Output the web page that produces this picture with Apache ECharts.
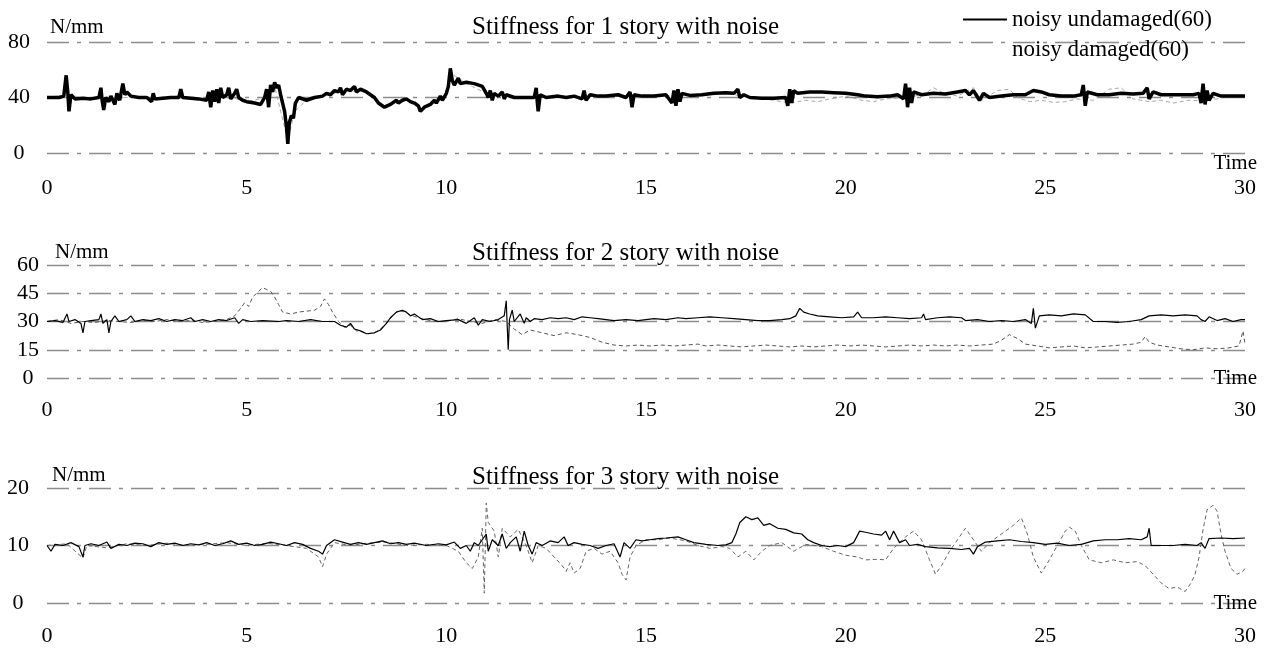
<!DOCTYPE html>
<html>
<head>
<meta charset="utf-8">
<script src="https://cdn.jsdelivr.net/npm/echarts@6/dist/echarts.min.js"></script>
<style>html,body{margin:0;padding:0;background:#fff;}#c{width:1270px;height:648px;}</style>
</head>
<body>
<div id="c"></div>
<script>
// ---- data (time in s, stiffness in N/mm) ----
var xTicks = [0, 5, 10, 15, 20, 25, 30];
var titles = ['Stiffness for 1 story with noise', 'Stiffness for 2 story with noise', 'Stiffness for 3 story with noise'];
var seriesNames = ['noisy undamaged(60)', 'noisy damaged(60)'];
var yMax = [80, 60, 20];
var yStep = [40, 15, 10];

var story1Undamaged = [[0,40],[0.3,40],[0.42,41],[0.48,56],[0.52,44],[0.55,30],[0.6,42],[0.7,39],[0.9,39.5],[1.1,39],[1.3,40],[1.35,47],[1.38,38],[1.42,31],[1.47,40],[1.55,37],[1.6,41],[1.7,35],[1.75,43],[1.82,38],[1.9,50],[1.95,42],[2.0,44],[2.1,41],[2.3,40],[2.5,40],[2.62,37],[2.66,43],[2.7,39],[2.9,39.5],[3.1,40],[3.3,40],[3.35,46],[3.4,40],[3.6,39.5],[3.8,39],[4.0,38],[4.05,44],[4.1,33],[4.15,45],[4.2,37],[4.25,46],[4.3,36],[4.35,47],[4.4,40],[4.5,42],[4.55,47],[4.6,39],[4.7,43],[4.75,46],[4.8,40],[4.9,38],[5.0,37],[5.2,36],[5.35,35],[5.45,40],[5.5,46],[5.55,33],[5.6,49],[5.65,44],[5.7,51],[5.75,47],[5.8,49],[5.85,42],[5.9,36],[5.95,30],[6.0,18],[6.03,6.5],[6.07,22],[6.12,27],[6.17,25],[6.22,36],[6.3,40],[6.5,38],[6.7,40],[6.9,41],[7.0,43],[7.1,42],[7.2,45],[7.3,44],[7.35,47],[7.4,42],[7.5,46],[7.6,45],[7.7,48],[7.75,44],[7.85,46],[8.0,44],[8.1,42],[8.2,40],[8.3,36],[8.45,33],[8.6,35],[8.75,38],[8.8,36],[8.9,38],[9.0,39],[9.1,37],[9.2,36],[9.3,34],[9.35,30],[9.45,33],[9.6,35],[9.7,38],[9.75,36],[9.85,41],[9.9,38],[10.0,43],[10.05,48],[10.1,61],[10.15,52],[10.2,49],[10.3,54],[10.35,50],[10.5,51],[10.7,50],[10.9,48],[11.0,43],[11.05,40],[11.1,45],[11.15,38],[11.2,43],[11.3,41],[11.4,44],[11.45,39],[11.5,42],[11.7,40],[12.0,40],[12.2,40],[12.25,47],[12.28,36],[12.3,30],[12.35,42],[12.5,40],[12.8,41],[13.0,40],[13.2,41],[13.4,39],[13.45,45],[13.5,38],[13.6,42],[13.8,41],[14.0,41],[14.3,42],[14.5,40],[14.6,44],[14.65,33],[14.7,42],[14.9,41],[15.2,41],[15.5,42],[15.65,36],[15.7,45],[15.75,34],[15.8,46],[15.85,37],[15.9,43],[16.1,41.5],[16.4,42],[16.7,43],[17.0,43.5],[17.2,43],[17.3,46],[17.35,40],[17.45,42],[17.6,40],[17.9,39.5],[18.2,39.5],[18.5,40],[18.55,34],[18.6,46],[18.65,36],[18.7,45],[18.8,43],[19.1,44],[19.4,44],[19.7,43.5],[20.0,43],[20.3,42],[20.5,41],[20.8,40.5],[21.1,41],[21.3,42],[21.45,39],[21.5,50],[21.55,33],[21.6,47],[21.65,36],[21.7,44],[21.9,42],[22.2,43],[22.5,42.5],[22.8,44],[23.0,45],[23.1,42],[23.2,45],[23.35,38],[23.45,43],[23.6,40],[23.9,41],[24.2,42],[24.5,42],[24.7,45],[24.9,44],[25.1,42],[25.4,41],[25.7,41],[25.9,42],[25.95,49],[26.0,34],[26.05,44],[26.3,42],[26.6,42],[26.9,43],[27.2,42.5],[27.45,43],[27.55,47],[27.6,39],[27.7,44],[27.9,42],[28.3,42],[28.7,42],[28.85,43],[28.9,36],[28.95,50],[29.0,35],[29.05,45],[29.1,38],[29.2,43],[29.4,41],[29.7,41],[30,41]];

var story1Damaged = [[0,40],[0.5,42],[1,39.5],[2,40],[3,40],[4,39],[4.5,41],[5,37],[5.5,40],[5.7,48],[6.03,9],[6.2,30],[6.5,38],[7,42],[7.5,45],[8,44],[8.45,33],[9,38],[9.4,31],[10,43],[10.1,58],[10.5,50],[11,43],[12,40],[13,40.5],[14,41],[15,41],[16,41.5],[17,43],[17.6,40],[18.2,38],[18.6,36],[19,38],[19.3,37],[19.6,39],[20,41],[20.4,38],[20.7,37],[21,39],[21.6,40],[22,43],[22.2,47],[22.4,44],[22.8,41],[23.2,47],[23.4,38],[23.8,45],[24.1,46],[24.3,40],[24.6,37],[24.9,38],[25.2,36.5],[25.5,37],[25.8,39],[26.2,38],[26.6,46],[26.9,47],[27.2,39],[27.6,37],[27.9,38],[28.2,36],[28.6,38],[29,37.5],[29.5,40],[30,40.5]];

var story2Undamaged = [[0,30],[0.2,30.5],[0.4,29.5],[0.5,34],[0.55,30],[0.7,31],[0.85,29],[0.9,24],[0.95,30],[1.1,30.5],[1.3,31],[1.35,34],[1.4,29],[1.5,31],[1.55,24],[1.6,30],[1.7,33],[1.8,30],[2.0,31],[2.1,33],[2.2,30],[2.4,31],[2.6,30.5],[2.8,31.5],[3.0,30],[3.2,31],[3.4,30.5],[3.6,32],[3.7,30],[3.9,31],[4.1,30],[4.3,31],[4.5,30.5],[4.7,32],[4.8,29],[4.9,31],[5.1,30],[5.4,30.5],[5.8,30],[6.0,30.5],[6.3,30],[6.6,31],[6.9,30],[7.2,30],[7.35,28],[7.5,27],[7.6,29],[7.7,26],[7.85,25],[8.0,23.5],[8.2,24],[8.35,25.5],[8.5,29],[8.6,32],[8.75,35],[8.9,36],[9.0,35],[9.1,33],[9.2,34],[9.4,31],[9.6,31.5],[9.8,30],[10.0,30.5],[10.3,31],[10.5,29],[10.7,32],[10.8,28],[10.9,31],[11.1,30],[11.3,31],[11.45,33],[11.5,41],[11.52,30],[11.55,15],[11.58,31],[11.65,36],[11.7,30],[11.85,34],[11.95,29],[12.0,32],[12.1,30],[12.2,31.5],[12.4,31],[12.6,32],[12.8,31.5],[13.0,32],[13.2,31],[13.4,32.5],[13.6,32],[13.8,31.5],[14.0,31],[14.2,30.5],[14.5,31],[14.8,30.5],[15.0,31],[15.2,31.5],[15.5,31],[15.8,32],[16.0,31.5],[16.3,32],[16.6,32.5],[16.9,32],[17.2,31.5],[17.5,31],[17.8,30.5],[18.1,30.5],[18.4,31],[18.6,31.5],[18.75,33],[18.85,37],[18.95,35],[19.1,34],[19.3,33],[19.6,32.5],[19.9,32],[20.2,32.5],[20.3,35],[20.4,32],[20.7,32],[21.0,32.5],[21.3,32],[21.6,31.5],[21.9,32],[21.95,34],[22.0,31],[22.3,32],[22.6,32.5],[22.9,32],[23.0,30.5],[23.3,31],[23.6,30],[23.9,30.5],[24.2,30],[24.5,31],[24.65,29],[24.7,37],[24.75,26.5],[24.85,33],[25.1,33.5],[25.4,33],[25.7,34],[26.0,33.5],[26.2,30],[26.5,30],[26.8,29.5],[27.1,30],[27.4,31],[27.6,33],[27.9,33.5],[28.2,33],[28.5,33.5],[28.8,33],[28.9,31],[29.0,30],[29.1,32.5],[29.3,30.5],[29.5,31.5],[29.7,30],[29.9,31],[30,31]];

var story2Damaged = [[0,30],[0.3,31],[0.6,29],[0.9,30],[1.2,29.5],[1.5,30.5],[1.8,30],[2.1,29.5],[2.4,30.5],[2.7,30],[3.0,31],[3.3,30],[3.6,30.5],[3.9,29.5],[4.2,30],[4.5,31],[4.7,33],[4.85,37],[4.95,40],[5.05,38],[5.15,43],[5.3,46],[5.4,48],[5.5,47],[5.6,46],[5.7,43],[5.8,39],[5.9,35],[6.1,34],[6.3,35],[6.5,35.5],[6.7,36],[6.85,38],[6.95,42],[7.05,39],[7.15,35],[7.3,30],[7.45,27],[7.6,28],[7.75,25],[7.9,24.5],[8.05,23.5],[8.2,24],[8.35,26],[8.5,29],[8.65,33],[8.8,36],[8.95,35],[9.1,33.5],[9.3,32],[9.5,31],[9.7,30],[10.0,30],[10.3,31.5],[10.6,30],[10.9,29],[11.2,31],[11.5,30],[11.7,26],[11.9,23],[12.1,25.5],[12.4,24],[12.7,22.5],[13.0,24],[13.3,23],[13.6,21.5],[13.9,19],[14.2,17.5],[14.5,17],[14.8,17.5],[15.1,17],[15.4,17.5],[15.7,17],[16.0,17.5],[16.3,18],[16.5,17],[16.8,17.5],[17.1,17],[17.4,16.5],[17.7,17],[18.0,17.5],[18.3,17],[18.6,16.5],[18.9,17],[19.2,16.5],[19.5,17],[19.8,17.5],[20.1,17],[20.4,17.5],[20.7,17],[21.0,16.5],[21.3,17],[21.6,17.5],[21.9,17],[22.2,17.5],[22.5,17],[22.8,17.5],[23.1,17],[23.4,17.5],[23.7,18],[23.9,20],[24.1,23],[24.3,21],[24.5,18],[24.8,17],[25.1,16],[25.4,16.5],[25.7,17],[26.0,16],[26.3,16.5],[26.6,17],[26.9,17.5],[27.2,18],[27.4,19],[27.5,22],[27.6,19],[27.8,17.5],[28.1,16.5],[28.4,15.5],[28.7,15],[29.0,16],[29.3,15.5],[29.6,16],[29.85,17],[29.95,25],[30,18]];

var story3Undamaged = [[0,10],[0.1,9],[0.2,10.2],[0.4,10],[0.6,10.5],[0.8,9.8],[0.9,8],[0.95,10],[1.1,10.3],[1.3,10],[1.5,10.6],[1.6,9.5],[1.8,10.2],[2.0,10],[2.2,10.4],[2.4,10.3],[2.6,9.8],[2.8,10.5],[3.0,10.2],[3.2,10.4],[3.4,10],[3.6,10.3],[3.8,10.1],[4.0,10.5],[4.2,10],[4.4,10.3],[4.6,10.8],[4.8,10.2],[5.0,10.4],[5.2,10],[5.4,10.2],[5.6,10.6],[5.8,10.3],[6.0,10],[6.2,10.5],[6.4,10.2],[6.6,9.5],[6.8,9],[6.9,8.5],[7.0,10],[7.2,11],[7.4,10.6],[7.6,10.2],[7.8,10.5],[8.0,10.2],[8.2,10.5],[8.4,10.8],[8.6,10.3],[8.8,10.5],[9.0,10.2],[9.2,10.4],[9.5,10],[9.8,10.3],[10.0,10.1],[10.2,10.6],[10.35,9.5],[10.5,10],[10.6,9],[10.7,10.5],[10.8,10],[11.0,12],[11.05,9],[11.15,11],[11.3,10],[11.4,12],[11.5,9.5],[11.6,10.5],[11.75,11.5],[11.85,9],[11.95,12.5],[12.05,10],[12.15,8.5],[12.25,10.5],[12.4,10],[12.6,10.8],[12.8,10.5],[12.95,11.5],[13.05,10],[13.2,10.5],[13.4,10.2],[13.6,10],[13.8,9.5],[14.0,10],[14.2,10.3],[14.35,8],[14.45,10.5],[14.6,9.5],[14.75,11],[14.9,10.8],[15.1,11],[15.3,11.2],[15.5,11.3],[15.8,11.5],[16.0,11],[16.2,10.5],[16.5,10.2],[16.8,10],[17.0,10.1],[17.15,10.5],[17.25,12],[17.35,14],[17.5,15],[17.65,14.5],[17.8,14.8],[17.95,13.5],[18.1,13.8],[18.3,13],[18.5,12.8],[18.7,12.2],[18.9,12],[19.05,11],[19.2,10.5],[19.4,10],[19.6,9.8],[19.8,10],[20.0,9.8],[20.2,10.5],[20.35,12.5],[20.5,12.3],[20.7,12],[20.9,11.8],[21.0,12.5],[21.1,11],[21.2,12.5],[21.35,10.5],[21.5,11],[21.6,10],[21.8,10.2],[22.0,9.8],[22.3,9.6],[22.6,9.5],[22.9,9.3],[23.1,9.5],[23.2,8.5],[23.3,9.8],[23.5,10.6],[23.8,10.8],[24.1,11],[24.4,10.7],[24.7,10.5],[25.0,10.2],[25.3,10.4],[25.6,10],[25.9,10.2],[26.2,10.8],[26.5,11],[26.8,11],[27.1,11.2],[27.4,11],[27.55,11.5],[27.6,13],[27.65,10],[27.9,10],[28.2,10],[28.5,10.2],[28.8,10],[28.9,10.5],[29.0,9.5],[29.1,11.2],[29.4,11.3],[29.7,11.2],[30,11.3]];

var story3Damaged = [[0,10],[0.5,10.3],[0.9,7.8],[1.0,10],[1.5,9.6],[2,10.3],[2.5,10],[3,10.4],[3.5,10],[4,10.2],[4.5,10.5],[5,10],[5.5,10.4],[6,10],[6.5,9.5],[6.8,8],[6.9,6.3],[7.0,8.5],[7.2,10.5],[7.6,10],[8,10.4],[8.5,10.6],[9,10],[9.5,10.2],[10,10],[10.3,9],[10.5,7],[10.65,6],[10.8,8],[10.9,13],[10.95,1.7],[11.0,17.4],[11.05,14],[11.2,12.5],[11.3,8],[11.4,13],[11.6,11.5],[11.8,12.8],[12.0,10],[12.15,7],[12.3,10],[12.5,9.5],[12.7,8],[12.9,6.5],[13.0,5.5],[13.1,7],[13.2,5.2],[13.35,6],[13.5,9],[13.7,9.5],[13.9,8.5],[14.1,9],[14.3,7],[14.4,5],[14.5,4],[14.6,8],[14.75,10],[15.0,11],[15.3,11],[15.6,11.3],[16.0,10.8],[16.3,10],[16.6,9.5],[16.9,9.8],[17.1,9.5],[17.3,8],[17.5,9],[17.7,7.5],[17.9,9],[18.1,10],[18.4,10.5],[18.7,9],[19.0,10.2],[19.4,9.8],[19.7,9],[20.0,8.3],[20.3,8],[20.5,7.5],[20.8,7.6],[21.0,7.5],[21.2,9.5],[21.5,11.5],[21.7,12.5],[21.9,11],[22.1,7.5],[22.25,5],[22.4,6.5],[22.6,9],[22.8,11],[23.0,13],[23.2,11],[23.4,9],[23.6,10.5],[23.8,11.5],[24.0,12.5],[24.2,13.5],[24.4,14.8],[24.55,12],[24.7,8],[24.9,5.2],[25.1,7.5],[25.3,10],[25.5,12.5],[25.6,13.2],[25.75,12.5],[25.9,10],[26.1,7.5],[26.4,7],[26.7,7.5],[27.0,7],[27.3,7.2],[27.5,6.5],[27.7,5],[27.9,3.5],[28.1,2.5],[28.3,2.8],[28.5,2],[28.65,3.5],[28.75,5],[28.85,8],[28.95,12.8],[29.05,16.2],[29.2,17],[29.3,16],[29.4,12],[29.5,9],[29.65,6],[29.8,5],[29.95,5.5],[30,6]];

var undamaged = [story1Undamaged, story2Undamaged, story3Undamaged];
var damaged = [story1Damaged, story2Damaged, story3Damaged];

// ---- layout ----
var FONT = '"Liberation Serif", "Times New Roman", serif';
var gridTops = [42, 265, 488];
var gridHeights = [111, 113, 115];
var yLabelMargin = [28, 19, 29];
var xLabelMargin = [24, 21, 22];
var nameGaps = [15, 13, 13];
var namePadLeft = [3, 8, 5];
var timeVAlign = ['top', 'middle', 'middle'];
var titleTops = [10, 236, 460];
var undamagedWidth = [3.5, 1.2, 1.2];
var damagedColor = ['#a8a8a8', '#555', '#666'];

var chart = echarts.init(document.getElementById('c'), null, {renderer: 'canvas'});
var grids = [], xAxes = [], yAxes = [], series = [], titleArr = [];
for (var i = 0; i < 3; i++) {
  grids.push({left: 47, right: 25, top: gridTops[i], height: gridHeights[i], containLabel: false});
  xAxes.push({
    type: 'value', gridIndex: i, min: xTicks[0], max: xTicks[xTicks.length - 1], interval: xTicks[1] - xTicks[0],
    axisLine: {show: false}, axisTick: {show: false}, splitLine: {show: false},
    axisLabel: {fontFamily: FONT, fontSize: 22, color: '#000', margin: xLabelMargin[i]},
    name: 'Time', nameLocation: 'end', nameGap: 12,
    nameTextStyle: {fontFamily: FONT, fontSize: 21, color: '#000', align: 'right', verticalAlign: timeVAlign[i]}
  });
  yAxes.push({
    type: 'value', gridIndex: i, min: 0, max: yMax[i], interval: yStep[i],
    axisLine: {show: false}, axisTick: {show: false},
    splitLine: {show: true, lineStyle: {color: '#8c8c8c', width: 1.3, type: [22, 8, 4, 8]}},
    axisLabel: {fontFamily: FONT, fontSize: 22, color: '#000', align: 'center', margin: yLabelMargin[i]},
    name: 'N/mm', nameLocation: 'end', nameGap: nameGaps[i],
    nameTextStyle: {fontFamily: FONT, fontSize: 21, color: '#000', align: 'left', verticalAlign: 'middle', padding: [0, 0, 0, namePadLeft[i]]}
  });
  titleArr.push({
    text: titles[i], left: 467, top: titleTops[i],
    textStyle: {fontFamily: FONT, fontSize: 25, fontWeight: 'normal', color: '#000'}
  });
  series.push({
    name: seriesNames[1], type: 'line', xAxisIndex: i, yAxisIndex: i, data: damaged[i],
    symbol: 'none', z: 2, lineStyle: {color: damagedColor[i], width: 1, type: [4, 3]}, itemStyle: {color: damagedColor[i]}
  });
  series.push({
    name: seriesNames[0], type: 'line', xAxisIndex: i, yAxisIndex: i, data: undamaged[i],
    symbol: 'none', z: 3, lineStyle: {color: '#000', width: undamagedWidth[i]}, itemStyle: {color: '#000'}
  });
}

chart.setOption({
  backgroundColor: '#fff',
  animation: false,
  title: titleArr,
  legend: {
    orient: 'vertical', left: 958, top: 3, itemWidth: 44, itemHeight: 2, itemGap: 7,
    textStyle: {fontFamily: FONT, fontSize: 23, color: '#000'},
    data: [
      {name: seriesNames[0], icon: 'rect', itemStyle: {color: '#000', opacity: 1}},
      {name: seriesNames[1], icon: 'rect', itemStyle: {opacity: 0}}
    ]
  },
  grid: grids,
  xAxis: xAxes,
  yAxis: yAxes,
  series: series
});
</script>
</body>
</html>
